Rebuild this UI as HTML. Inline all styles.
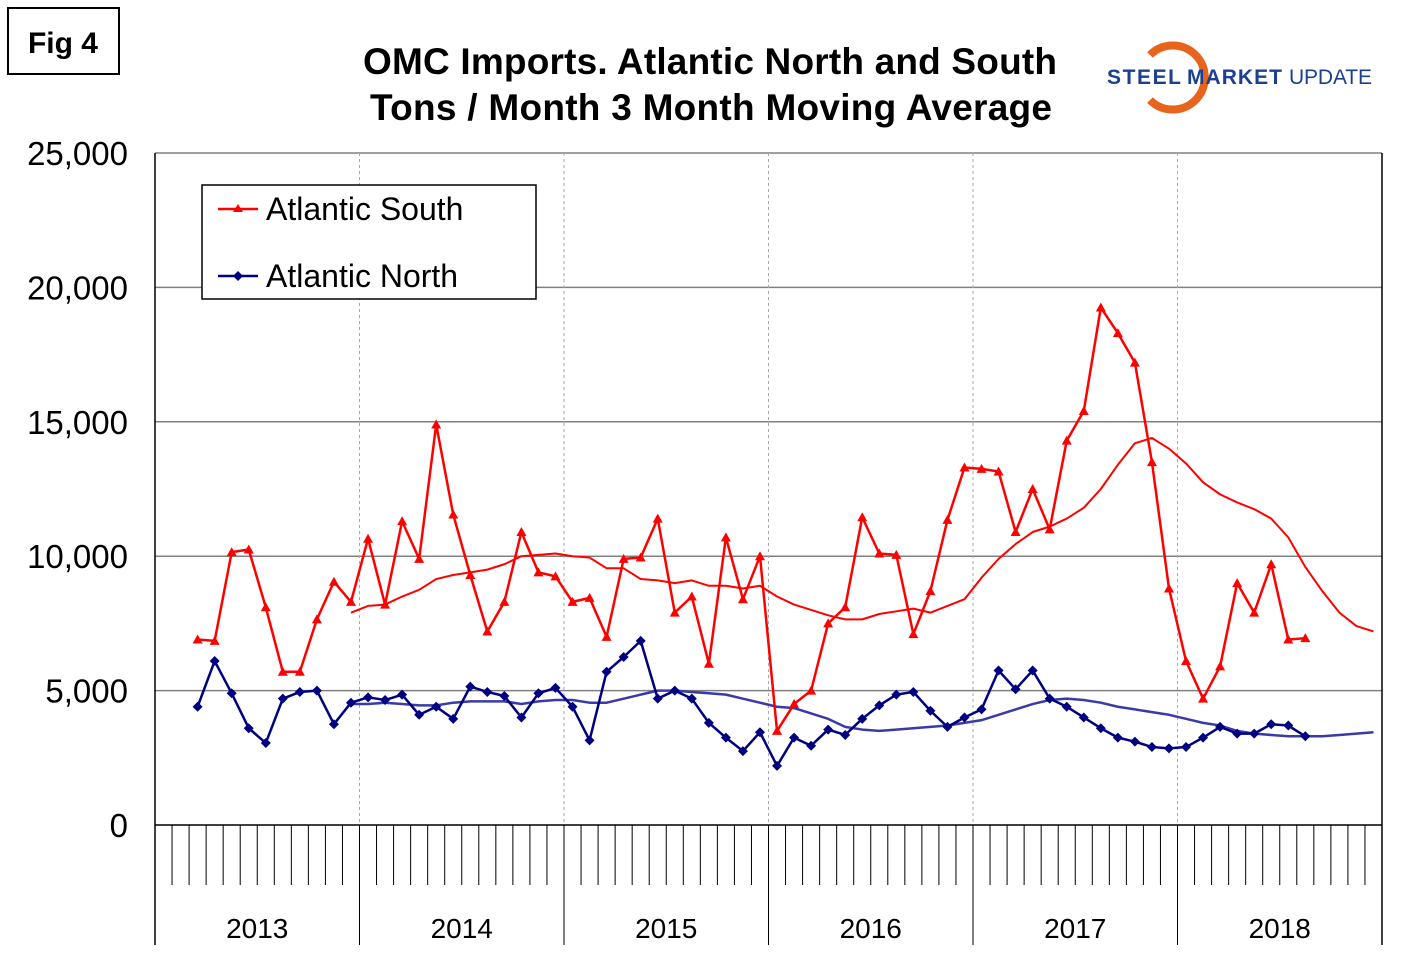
<!DOCTYPE html>
<html><head><meta charset="utf-8"><style>
body{margin:0;background:#fff;}
svg{display:block;font-family:"Liberation Sans",Arial,sans-serif;}
</style></head><body>
<svg id="c" width="1422" height="973" viewBox="0 0 1422 973">
<rect x="8" y="8" width="111" height="66" fill="#fff" stroke="#000" stroke-width="2"/>
<text x="63" y="53" font-size="30" font-weight="bold" text-anchor="middle">Fig 4</text>
<text x="710" y="74" font-size="37" font-weight="bold" text-anchor="middle" textLength="694">OMC Imports. Atlantic North and South</text>
<text x="711" y="120" font-size="37" font-weight="bold" text-anchor="middle" textLength="682">Tons / Month 3 Month Moving Average</text>
<g>
<path d="M1150,55 A32,32 0 1 1 1150,100" fill="none" stroke="#e8641c" stroke-width="8"/>
<text x="1107" y="84" font-size="21" font-weight="bold" fill="#1c3f8f" textLength="74">STEEL</text>
<text x="1187" y="84" font-size="21" font-weight="bold" fill="#1c3f8f" textLength="95">MARKET</text>
<text x="1289" y="84" font-size="21" fill="#1c3f8f" textLength="83">UPDATE</text>
</g>
<g id="grid"></g><g id="axes"></g><g id="series"></g>
<g>
<rect x="202" y="185" width="334" height="114" fill="#fff" stroke="#000" stroke-width="1.5"/>
<g>
<line x1="218" y1="209" x2="258" y2="209" stroke="#ff0000" stroke-width="2.5"/>
<path d="M238,204 L243,212 L233,212 Z" fill="#ff0000"/>
<text x="266" y="220" font-size="32">Atlantic South</text></g>
<g>
<line x1="218" y1="276" x2="258" y2="276" stroke="#000080" stroke-width="2.5"/>
<path d="M238,271 L243,276 L238,281 L233,276 Z" fill="#000080"/>
<text x="266" y="287" font-size="32">Atlantic North</text></g>
</g>
</svg>
<script>
const yTicks=[0,5000,10000,15000,20000,25000];
const yTickLabels=["0","5,000","10,000","15,000","20,000","25,000"];
const years=["2013","2014","2015","2016","2017","2018"];
const southStart=2;
const south=[6900,6850,10150,10250,8100,5700,5700,7650,9050,8300,10650,8200,11300,9900,14900,11550,9300,7200,8300,10900,9400,9250,8300,8450,7000,9900,9950,11400,7900,8500,6000,10700,8400,10000,3500,4500,5000,7500,8100,11450,10100,10050,7100,8700,11350,13300,13250,13150,10900,12500,11000,14300,15400,19250,18300,17200,13500,8800,6100,4700,5900,9000,7900,9700,6900,6950];
const north=[4400,6100,4900,3600,3050,4700,4950,5000,3750,4550,4750,4650,4850,4100,4400,3950,5150,4950,4800,4000,4900,5100,4400,3150,5700,6250,6850,4700,5000,4700,3800,3250,2750,3450,2200,3250,2950,3550,3350,3950,4450,4850,4950,4250,3650,4000,4300,5750,5050,5750,4700,4400,4000,3600,3250,3100,2900,2850,2900,3250,3650,3400,3400,3750,3700,3300];
const trendStart=11;
const southTrend=[7900,8150,8200,8500,8750,9150,9300,9400,9500,9700,10000,10050,10100,10000,9950,9550,9550,9150,9100,9000,9100,8900,8900,8800,8900,8500,8200,8000,7800,7650,7650,7850,7950,8050,7900,8150,8400,9200,9900,10450,10900,11100,11400,11800,12500,13400,14200,14400,14000,13450,12750,12300,12000,11750,11400,10700,9600,8700,7900,7400,7200];
const northTrend=[4500,4500,4550,4500,4450,4450,4550,4600,4600,4600,4500,4600,4650,4650,4550,4550,4700,4850,5000,5000,4950,4900,4850,4700,4550,4400,4350,4150,3950,3650,3550,3500,3550,3600,3650,3700,3800,3900,4100,4300,4500,4650,4700,4650,4550,4400,4300,4200,4100,3950,3800,3700,3500,3400,3350,3300,3300,3300,3350,3400,3450];

const NS="http://www.w3.org/2000/svg";
const X0=155,X1=1382,Y0=825,Y1=153,NM=72;
const xs=i=>X0+(X1-X0)/NM*(i+0.5);
const ys=v=>Y0-(Y0-Y1)*v/25000;
function mk(tag,attrs,parent){const e=document.createElementNS(NS,tag);for(const k in attrs)e.setAttribute(k,attrs[k]);parent.appendChild(e);return e;}
const grid=document.getElementById('grid'),axes=document.getElementById('axes'),ser=document.getElementById('series');
yTicks.forEach((v,i)=>{
 const l=mk('line',{x1:X0,x2:X1,y1:ys(v),y2:ys(v),stroke:i==0?'#000':'#808080','stroke-width':1.5},grid);
 
 
 const t=mk('text',{x:128,y:ys(v)+12,'font-size':33,'text-anchor':'end'},axes);
 t.textContent=yTickLabels[i];
 
 
});
mk('line',{x1:X0,x2:X0,y1:Y1,y2:945,stroke:'#000','stroke-width':1.5},axes);
mk('line',{x1:X1,x2:X1,y1:Y1,y2:945,stroke:'#000','stroke-width':1.5},axes);
for(let m=1;m<NM;m++){
 const x=X0+(X1-X0)/NM*m;
 const isYear=m%12==0;
 const tk=mk('line',{x1:x,x2:x,y1:Y0,y2:isYear?945:885,stroke:'#000','stroke-width':1},axes);
 
 
 if(isYear){mk('line',{x1:x,x2:x,y1:Y1,y2:Y0,stroke:'#aaa','stroke-width':1,'stroke-dasharray':'3,3'},grid);}
}
years.forEach((y,i)=>{
 const t=mk('text',{x:xs(i*12+5.5),y:938,'font-size':28,'text-anchor':'middle'},axes);
 t.textContent=y;
 
 
});
function line(arr,start,color,w,name){
 const p=mk('polyline',{points:arr.map((v,i)=>xs(start+i)+','+ys(v)).join(' '),fill:'none',stroke:color,'stroke-width':w,'stroke-linejoin':'round'},ser);
 
 
}
line(southTrend,trendStart,'#ff0000',2,'south-trend-line');
line(northTrend,trendStart,'#3a3aa8',2.5,'north-trend-line');
line(south,southStart,'#ff0000',2.5,'atlantic-south-line');
line(north,southStart,'#000080',2.5,'atlantic-north-line');
south.forEach((v,i)=>{const x=xs(southStart+i),y=ys(v);
 const m=mk('path',{d:`M${x},${y-5}L${x+5},${y+4}L${x-5},${y+4}Z`,fill:'#ff0000'},ser);
 
 });
north.forEach((v,i)=>{const x=xs(southStart+i),y=ys(v);
 const m=mk('path',{d:`M${x},${y-5}L${x+5},${y}L${x},${y+5}L${x-5},${y}Z`,fill:'#000080'},ser);
 
 });
</script>
</body></html>
